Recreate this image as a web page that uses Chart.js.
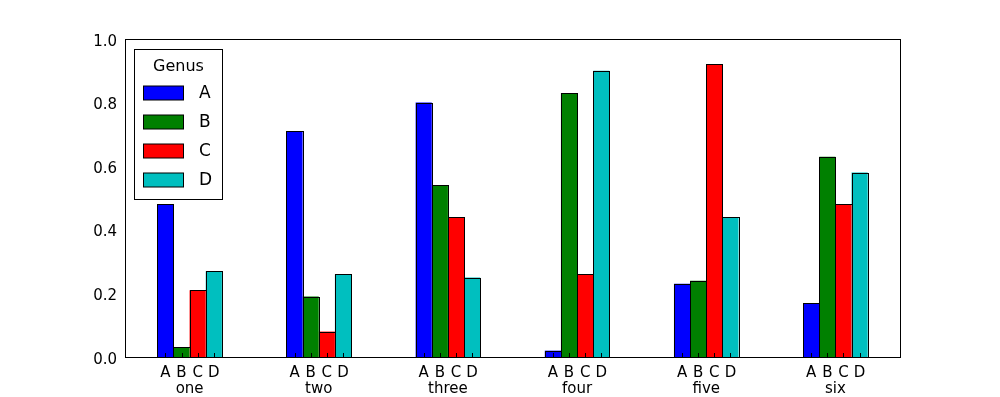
<!DOCTYPE html>
<html>
<head>
<meta charset="utf-8">
<script src="https://cdn.jsdelivr.net/npm/chart.js@4/dist/chart.umd.min.js"></script>
<style>
  html, body { margin: 0; padding: 0; background: #fff; }
  #wrap { width: 1000px; height: 397px; }
</style>
</head>
<body>
<div id="wrap"><canvas id="c" width="1000" height="397"></canvas></div>
<script>
const categories = ['one', 'two', 'three', 'four', 'five', 'six'];
const genusLabels = ['A', 'B', 'C', 'D'];
const valuesA = [0.48, 0.71, 0.80, 0.02, 0.23, 0.17];
const valuesB = [0.03, 0.19, 0.54, 0.83, 0.24, 0.63];
const valuesC = [0.21, 0.08, 0.44, 0.26, 0.92, 0.48];
const valuesD = [0.27, 0.26, 0.25, 0.90, 0.44, 0.58];
const yTicks = [0.0, 0.2, 0.4, 0.6, 0.8, 1.0];
const legendTitle = 'Genus';

const colors = ['#0000ff', '#008000', '#ff0000', '#00bfbf'];
const FONT = '"DejaVu Sans", sans-serif';

const seriesValues = [valuesA, valuesB, valuesC, valuesD];
const datasets = genusLabels.map((g, i) => ({
  label: g,
  data: seriesValues[i],
  backgroundColor: colors[i],
  borderColor: '#000000',
  borderWidth: 0,
  categoryPercentage: 0.5,
  barPercentage: 1.0
}));

const decorPlugin = {
  id: 'decor',
  afterDatasetsDraw(chart) {
    const ctx = chart.ctx;
    const a = chart.chartArea;
    ctx.save();
    ctx.strokeStyle = '#000';
    ctx.lineWidth = 1;
    ctx.fillStyle = '#000';
    ctx.font = '15px ' + FONT;
    ctx.textAlign = 'center';
    ctx.textBaseline = 'alphabetic';
    chart.data.datasets.forEach((ds, di) => {
      const meta = chart.getDatasetMeta(di);
      meta.data.forEach((bar) => {
        // crisp black outline around each bar, from the library's bar geometry
        const l = Math.round(bar.x - bar.width / 2) + 0.5;
        const r = Math.round(bar.x + bar.width / 2) + 0.5;
        const t = Math.round(bar.y) + 0.5;
        const b = Math.round(bar.base) + 0.5;
        ctx.strokeRect(l, t, r - l, b - t);
        const x = Math.round(bar.x) + 0.5;
        ctx.beginPath();
        ctx.moveTo(x, a.bottom);
        ctx.lineTo(x, a.bottom - 4);
        ctx.stroke();
        ctx.fillText(ds.label, bar.x, a.bottom + 20);
      });
    });
    ctx.strokeRect(Math.round(a.left) + 0.5, Math.round(a.top) + 0.5,
                   Math.round(a.right - a.left), Math.round(a.bottom - a.top));
    const lx = a.left + 9.5, ly = a.top + 10.5, lw = 88, lh = 150;
    ctx.fillStyle = '#fff';
    ctx.fillRect(lx, ly, lw, lh);
    ctx.strokeRect(lx, ly, lw, lh);
    ctx.fillStyle = '#000';
    ctx.font = '16px ' + FONT;
    ctx.textAlign = 'center';
    ctx.textBaseline = 'middle';
    ctx.fillText(legendTitle, lx + lw / 2, ly + 17.5);
    chart.data.datasets.forEach((ds, di) => {
      const cy = ly + 43.5 + di * 29;
      ctx.fillStyle = ds.backgroundColor;
      ctx.fillRect(lx + 9, cy - 7, 40, 14);
      ctx.strokeStyle = '#000';
      ctx.strokeRect(lx + 9, cy - 7, 40, 14);
      ctx.fillStyle = '#000';
      ctx.font = '17px ' + FONT;
      ctx.textAlign = 'left';
      ctx.fillText(ds.label, lx + 64.5, cy + 1);
    });
    ctx.restore();
  }
};

new Chart(document.getElementById('c'), {
  type: 'bar',
  data: { labels: categories, datasets },
  options: {
    responsive: false,
    animation: false,
    devicePixelRatio: 1,
    layout: { padding: { left: 0, right: 100, top: 39, bottom: 0 } },
    plugins: { legend: { display: false }, tooltip: { enabled: false } },
    scales: {
      x: {
        grid: { display: false, drawTicks: false },
        border: { display: false },
        ticks: { color: '#000', font: { family: FONT, size: 15 }, padding: 23, maxRotation: 0 },
        afterFit(s) { s.height = 40; }
      },
      y: {
        min: 0, max: 1,
        grid: { display: false, drawTicks: false },
        border: { display: false },
        afterBuildTicks(s) { s.ticks = yTicks.map(v => ({ value: v })); },
        ticks: {
          color: '#000', font: { family: FONT, size: 15, lineHeight: 0.35 }, padding: 8,
          callback: (v) => ['', Number(v).toFixed(1)]
        },
        afterFit(s) { s.width = 125; }
      }
    }
  },
  plugins: [decorPlugin]
});
</script>
</body>
</html>
